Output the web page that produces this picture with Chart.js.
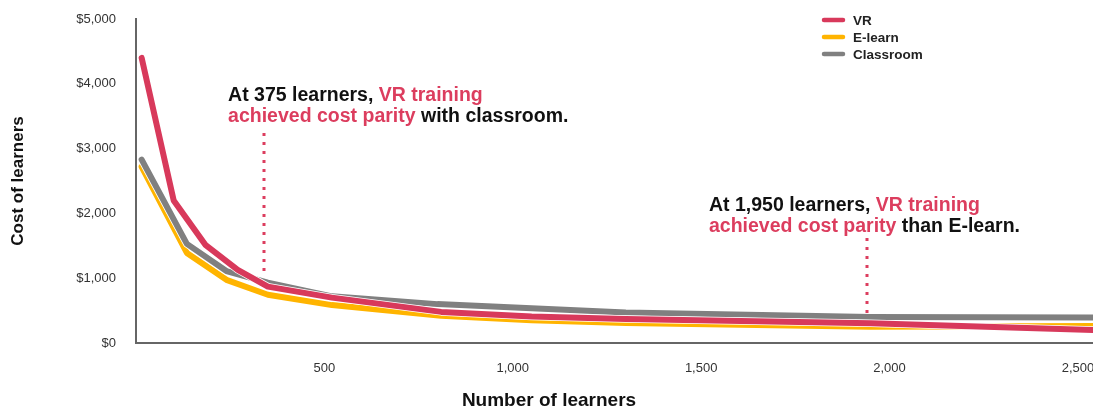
<!DOCTYPE html>
<html>
<head>
<meta charset="utf-8">
<script src="https://cdn.jsdelivr.net/npm/chart.js@4"></script>
<style>
  html, body { margin: 0; padding: 0; background: #fff; }
  #wrap { width: 1093px; height: 410px; position: relative; }
</style>
</head>
<body>
<div id="wrap"><canvas id="graficoCusto" width="1093" height="410"></canvas></div>
<script>
// values
const vrLearners = [15, 100, 185, 270, 350, 520, 810, 1050, 1300, 1950, 2540];
const vrCost = [4400, 2200, 1510, 1130, 870, 700, 480, 410, 370, 305, 200];

const elearnLearners = [15, 135, 240, 350, 520, 810, 1050, 1300, 1950, 2540];
const elearnCost = [2720, 1390, 975, 745, 585, 420, 350, 310, 250, 262];

const classLearners = [15, 135, 240, 350, 520, 800, 1300, 1950, 2540];
const classCost = [2830, 1530, 1110, 930, 720, 600, 470, 400, 395];

const seriesNames = ["VR", "E-learn", "Classroom"];
const yTicks = [0, 1000, 2000, 3000, 4000, 5000];
const xTicks = [500, 1000, 1500, 2000, 2500];

const parityLearners = [340, 1940];

const PINK = "#dc3d5e";
const FONT = "'Liberation Sans', Arial, sans-serif";

function pontos(xs, ys) {
  return xs.map((x, i) => ({ x: x, y: ys[i] }));
}

// thin white outline under every line
const contorno = {
  id: "contorno",
  beforeDatasetDraw(chart, args) {
    const pts = args.meta.data;
    const ctx = chart.ctx;
    const area = chart.chartArea;
    ctx.save();
    ctx.beginPath();
    ctx.rect(area.left, 0, area.right - area.left, area.bottom);
    ctx.clip();
    ctx.beginPath();
    pts.forEach((p, i) => (i ? ctx.lineTo(p.x, p.y) : ctx.moveTo(p.x, p.y)));
    ctx.strokeStyle = "#fff";
    ctx.lineWidth = 7.5;
    ctx.lineJoin = "round";
    ctx.lineCap = "round";
    ctx.stroke();
    ctx.restore();
  }
};

function textoMisto(ctx, partes, x, y) {
  partes.forEach(([txt, cor]) => {
    ctx.fillStyle = cor;
    ctx.fillText(txt, x, y);
    x += ctx.measureText(txt).width;
  });
}

const extras = {
  id: "extras",
  afterDatasetsDraw(chart) {
    const ctx = chart.ctx;
    const xs = chart.scales.x;
    const ys = chart.scales.y;
    ctx.save();

    // dotted parity markers
    ctx.strokeStyle = PINK;
    ctx.lineWidth = 3;
    ctx.setLineDash([3, 6]);
    const marcas = [
      [parityLearners[0], 3240, 1050],
      [parityLearners[1], 1620, 410]
    ];
    marcas.forEach(([lx, y1, y2]) => {
      const px = Math.round(xs.getPixelForValue(lx));
      ctx.beginPath();
      ctx.moveTo(px, ys.getPixelForValue(y1));
      ctx.lineTo(px, ys.getPixelForValue(y2));
      ctx.stroke();
    });
    ctx.setLineDash([]);

    // annotations
    ctx.font = "bold 19.5px " + FONT;
    ctx.textBaseline = "alphabetic";
    ctx.textAlign = "left";
    const a1x = xs.getPixelForValue(parityLearners[0]) - 36;
    textoMisto(ctx, [["At 375 learners, ", "#111"], ["VR training", PINK]], a1x, 101);
    textoMisto(ctx, [["achieved cost parity", PINK], [" with classroom.", "#111"]], a1x, 122);
    const a2x = xs.getPixelForValue(parityLearners[1]) - 158;
    textoMisto(ctx, [["At 1,950 learners, ", "#111"], ["VR training", PINK]], a2x, 211);
    textoMisto(ctx, [["achieved cost parity", PINK], [" than E-learn.", "#111"]], a2x, 232);

    // legend
    ctx.font = "bold 13.5px " + FONT;
    ctx.textBaseline = "middle";
    chart.data.datasets.forEach((ds, i) => {
      const y = 20 + i * 17;
      ctx.strokeStyle = ds.borderColor;
      ctx.lineWidth = 4.5;
      ctx.lineCap = "round";
      ctx.beginPath();
      ctx.moveTo(824, y);
      ctx.lineTo(843, y);
      ctx.stroke();
      ctx.fillStyle = "#222";
      ctx.fillText(ds.label, 853, y + 1);
    });

    // x title
    ctx.font = "bold 19px " + FONT;
    ctx.textAlign = "center";
    ctx.fillStyle = "#111";
    ctx.fillText("Number of learners", 549, 401);
    ctx.restore();
  }
};

new Chart(document.getElementById("graficoCusto"), {
  type: "line",
  data: {
    datasets: [
      { label: seriesNames[0], data: pontos(vrLearners, vrCost), borderColor: "#d8395b", order: 0 },
      { label: seriesNames[1], data: pontos(elearnLearners, elearnCost), borderColor: "#ffb400", order: 2 },
      { label: seriesNames[2], data: pontos(classLearners, classCost), borderColor: "#808080", order: 1 }
    ].map(ds => Object.assign(ds, {
      borderWidth: 6,
      pointRadius: 0,
      tension: 0,
      fill: false,
      borderJoinStyle: "round",
      borderCapStyle: "round"
    }))
  },
  options: {
    responsive: false,
    animation: false,
    devicePixelRatio: 1,
    layout: { padding: { top: 19, right: 0, left: 0, bottom: 0 } },
    plugins: { legend: { display: false }, tooltip: { enabled: false } },
    scales: {
      x: {
        type: "linear",
        min: 0,
        max: 2540,
        afterBuildTicks: s => { s.ticks = xTicks.map(v => ({ value: v })); },
        afterFit: s => { s.height = 67; s.paddingLeft = 0; s.paddingRight = 0; },
        grid: { display: false, drawTicks: false },
        border: { display: true, color: "#666", width: 2 },
        ticks: {
          padding: 18,
          color: "#333",
          font: { family: FONT, size: 13 },
          maxRotation: 0,
          callback: v => v.toLocaleString("en-US")
        }
      },
      y: {
        min: 0,
        max: 5000,
        afterBuildTicks: s => { s.ticks = yTicks.map(v => ({ value: v })); },
        afterFit: s => { s.width = 136; s.paddingTop = 0; s.paddingBottom = 0; },
        grid: { display: false, drawTicks: false },
        border: { display: true, color: "#666", width: 2 },
        ticks: {
          padding: 20,
          color: "#333",
          font: { family: FONT, size: 13 },
          callback: v => "$" + v.toLocaleString("en-US")
        },
        title: {
          display: true,
          text: "Cost of learners",
          color: "#111",
          font: { family: FONT, size: 17, weight: "bold" },
          padding: { top: 8, bottom: 0 }
        }
      }
    }
  },
  plugins: [contorno, extras]
});
</script>
</body>
</html>
